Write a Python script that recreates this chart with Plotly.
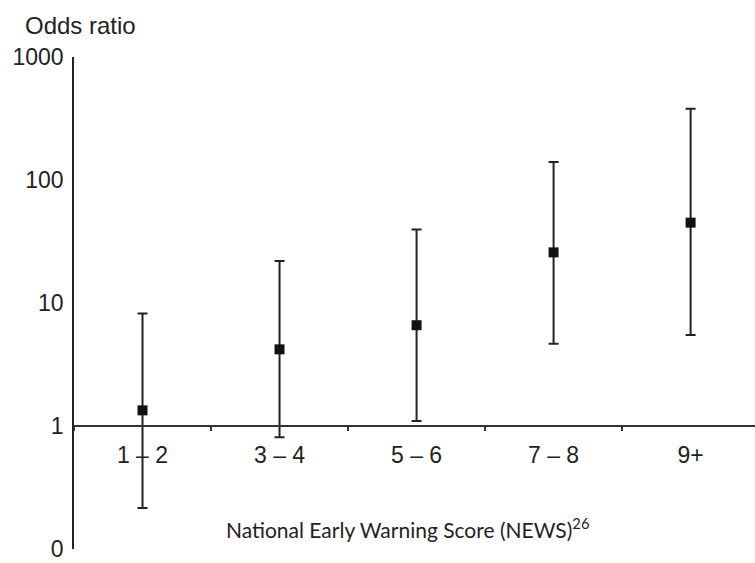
import plotly.graph_objects as go

# NEWS score bands and odds ratios with 95% confidence limits
categories = ["1 \u2013 2", "3 \u2013 4", "5 \u2013 6", "7 \u2013 8", "9+"]
odds_ratio = [1.34, 4.2, 6.6, 25.8, 45.0]
ci_lower = [0.215, 0.81, 1.10, 4.67, 5.5]
ci_upper = [8.2, 22.0, 39.6, 140.0, 379.0]

y_tickvals = [0.1, 1, 10, 100, 1000]
y_ticktext = ["0", "1", "10", "100", "1000"]

err_plus = [u - v for u, v in zip(ci_upper, odds_ratio)]
err_minus = [v - l for v, l in zip(odds_ratio, ci_lower)]

ink = "#222222"
sans = "Liberation Sans, Arial, sans-serif"

fig = go.Figure()
fig.add_trace(go.Scatter(
    x=categories,
    y=odds_ratio,
    mode="markers",
    marker=dict(symbol="square", size=10, color="#111111"),
    error_y=dict(
        type="data",
        symmetric=False,
        array=err_plus,
        arrayminus=err_minus,
        color=ink,
        thickness=2,
        width=5,
    ),
    showlegend=False,
    cliponaxis=False,
))

fig.update_layout(
    width=755,
    height=563,
    margin=dict(l=74, r=0, t=57, b=14, autoexpand=False),
    paper_bgcolor="white",
    plot_bgcolor="white",
    font=dict(family=sans, size=23, color=ink),
    title=dict(
        text="Odds ratio",
        xref="container", yref="container",
        x=25 / 755, xanchor="left",
        y=1 - 26 / 563, yanchor="middle",
        font=dict(family=sans, size=24, color=ink),
        pad=dict(t=0, b=0, l=0, r=0),
    ),
    xaxis=dict(
        type="category",
        range=[-0.5, 4.47],
        anchor="free",
        position=0.25,
        automargin=False,
        showline=True,
        linecolor="#333333",
        linewidth=2,
        showgrid=False,
        zeroline=False,
        ticks="outside",
        tickson="boundaries",
        ticklen=4,
        tickwidth=1.5,
        tickcolor="#333333",
        ticklabelstandoff=8,
        tickfont=dict(family=sans, size=23, color=ink),
    ),
    yaxis=dict(
        type="log",
        range=[-1.0, 3.0],
        tickvals=y_tickvals,
        ticktext=y_ticktext,
        automargin=False,
        showline=True,
        linecolor=ink,
        linewidth=1.5,
        showgrid=False,
        zeroline=False,
        ticks="",
        ticklabelstandoff=4,
        ticklabeloverflow="allow",
        tickfont=dict(family=sans, size=23, color=ink),
    ),
)

fig.add_annotation(
    text="National Early Warning Score (NEWS)<sup>26</sup>",
    xref="paper", yref="paper",
    x=(407 - 74) / 681, y=(549 - 528) / 492,
    xanchor="center", yanchor="middle",
    showarrow=False,
    font=dict(family="Lato, Carlito, sans-serif", size=21, color=ink),
)

fig.write_html("out.html")
